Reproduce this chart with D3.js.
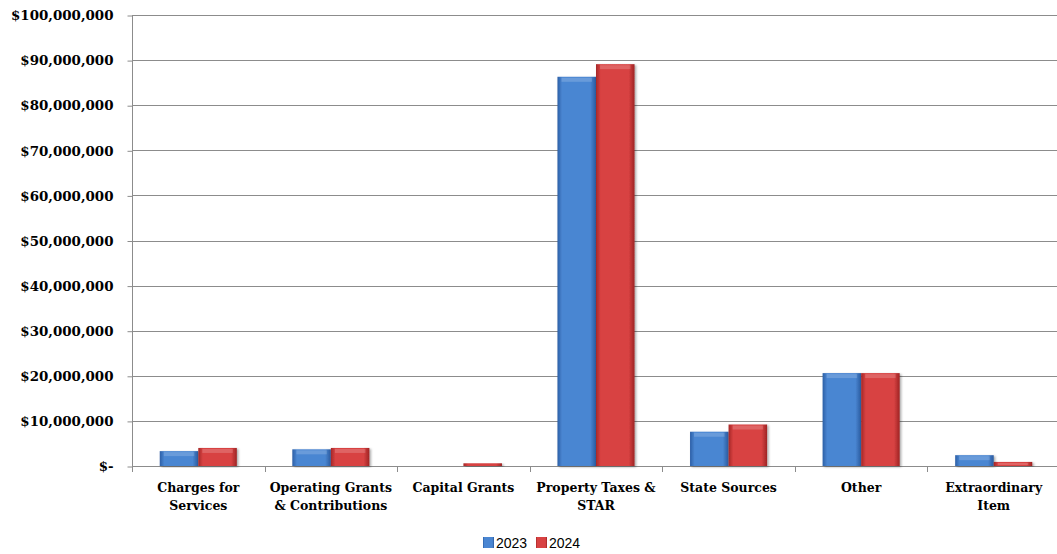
<!DOCTYPE html>
<html><head><meta charset="utf-8">
<script src="https://cdn.jsdelivr.net/npm/d3@7"></script>
<style>body{margin:0;background:#fff}svg{display:block}</style>
</head><body>
<svg id="c" width="1057" height="554"></svg>
<script>
const categories = [["Charges for","Services"],["Operating Grants","& Contributions"],["Capital Grants"],["Property Taxes &","STAR"],["State Sources"],["Other"],["Extraordinary","Item"]];
const seriesNames = ["2023","2024"];
const values2023 = [3300000, 3700000, 0, 86300000, 7600000, 20600000, 2400000];
const values2024 = [4000000, 4000000, 600000, 89100000, 9200000, 20600000, 900000];
const yTicks = [0,10000000,20000000,30000000,40000000,50000000,60000000,70000000,80000000,90000000,100000000];
const colors = {"2023":["#2c5fa6","#4a86d2","#2a5a9e"],"2024":["#a52727","#d84242","#9e2424"]};

(function(){
const svg = d3.select("#c");
const pL=132,pR=1060,pT=15,pB=466;
const x = d3.scaleBand().domain(d3.range(categories.length)).range([pL,pR]).paddingInner(0).paddingOuter(0);
const x1 = d3.scaleBand().domain(seriesNames).range([0,x.bandwidth()]).paddingOuter(0.72).paddingInner(0);
const y = d3.scaleLinear().domain([0,100000000]).range([pB,pT]);

const defs = svg.append("defs");
seriesNames.forEach(s=>{
  const g = defs.append("linearGradient").attr("id","g"+s).attr("x1","0").attr("x2","1").attr("y1","0").attr("y2","0");
  g.append("stop").attr("offset","0").attr("stop-color",colors[s][0]);
  g.append("stop").attr("offset","0.12").attr("stop-color",colors[s][1]);
  g.append("stop").attr("offset","0.85").attr("stop-color",colors[s][1]);
  g.append("stop").attr("offset","1").attr("stop-color",colors[s][2]);
});
const f = defs.append("filter").attr("id","sh").attr("x","-20%").attr("y","-5%").attr("width","150%").attr("height","115%");
f.append("feDropShadow").attr("dx",1.5).attr("dy",1).attr("stdDeviation",1.2).attr("flood-color","#000").attr("flood-opacity",0.35);

svg.append("g").selectAll("line").data(yTicks).join("line")
  .attr("x1",pL).attr("x2",1057).attr("y1",d=>Math.round(y(d))+0.5).attr("y2",d=>Math.round(y(d))+0.5)
  .attr("stroke","#8c8c8c").attr("stroke-width",1);

const yAxis = d3.axisLeft(y).tickValues(yTicks).tickSize(5).tickPadding(14)
  .tickFormat(d=> d===0 ? "$-" : "$"+d3.format(",")(d));
const ya = svg.append("g").attr("transform",`translate(${pL+0.5},0.5)`).call(yAxis);
ya.select(".domain").attr("stroke","#8c8c8c").attr("d",`M0,${pT-0.5}V${pB}`);
ya.selectAll(".tick line").attr("stroke","#8c8c8c");
ya.selectAll("text").attr("font-family","DejaVu Serif").attr("font-weight","bold").attr("font-size","13.4px").attr("fill","#000");

svg.append("g").selectAll("line").data(d3.range(categories.length+1)).join("line")
  .attr("x1",d=>Math.round(pL+d*x.bandwidth())+0.5).attr("x2",d=>Math.round(pL+d*x.bandwidth())+0.5)
  .attr("y1",pB).attr("y2",pB+6).attr("stroke","#8c8c8c");

const rows = categories.map((c,i)=>({i, v:{"2023":values2023[i],"2024":values2024[i]}}));
const gb = svg.append("g");
rows.forEach(r=>{
  seriesNames.forEach(s=>{
    const v = r.v[s];
    if(v<=0) return;
    const bx = x(r.i)+x1(s), bw = x1.bandwidth(), by = y(v), bh = y(0)-y(v);
    gb.append("rect").attr("x",bx).attr("y",by).attr("width",bw).attr("height",bh)
      .attr("fill",`url(#g${s})`).attr("filter","url(#sh)");
    if(bh>4) gb.append("rect").attr("x",bx+4).attr("y",by+1).attr("width",bw-8).attr("height",Math.min(4,bh-2))
      .attr("fill","#fff").attr("opacity",0.18);
  });
});

const gl = svg.append("g");
categories.forEach((lines,i)=>{
  const t = gl.append("text").attr("x",x(i)+x.bandwidth()/2).attr("y",492)
    .attr("text-anchor","middle").attr("font-family","DejaVu Serif").attr("font-weight","bold").attr("font-size","12.5px");
  lines.forEach((l,j)=>t.append("tspan").attr("x",x(i)+x.bandwidth()/2).attr("dy",j===0?0:18).text(l));
});

const leg = svg.append("g").attr("transform","translate(483,537)");
seriesNames.forEach((s,j)=>{
  const g = leg.append("g").attr("transform",`translate(${j*53},0)`);
  g.append("rect").attr("width",11).attr("height",11).attr("fill",`url(#g${s})`);
  g.append("text").attr("x",13).attr("y",11).attr("font-family","Liberation Sans").attr("font-size","14px").text(s);
});
})();
</script>
</body></html>
